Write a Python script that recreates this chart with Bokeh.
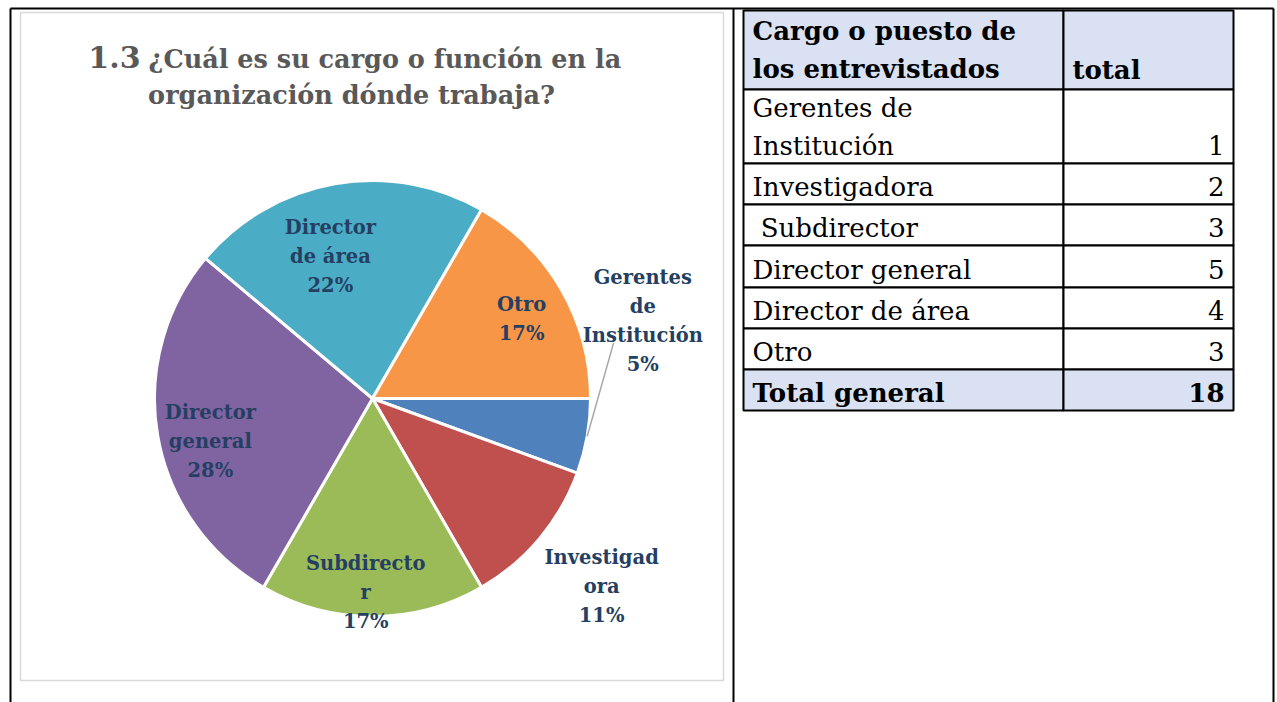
from bokeh.plotting import figure
from bokeh.models import Range1d, ColumnDataSource
from bokeh.embed import file_html
from bokeh.resources import INLINE
from bokeh.core.properties import value
import numpy as np

# ---------------- data ----------------
categories = ["Gerentes de Institución", "Investigadora", "Subdirector",
              "Director general", "Director de área", "Otro"]
counts = [1, 2, 3, 5, 4, 3]
pct_labels = ["5%", "11%", "17%", "28%", "22%", "17%"]
slice_labels = ["Gerentes\nde\nInstitución", "Investigad\nora", "Subdirecto\nr",
                "Director\ngeneral", "Director\nde área", "Otro"]
table_row_labels = ["Gerentes de\nInstitución", "Investigadora", "\u00a0Subdirector",
                    "Director general", "Director de área", "Otro"]
total_label = "Total general"
header_labels = ["Cargo o puesto de\nlos entrevistados", "total"]
title_number = "1.3"
title_lines = ["¿Cuál es su cargo o función en la", "organización dónde trabaja?"]
colors = ["#4F81BD", "#C0504D", "#9BBB59", "#8064A2", "#4BACC6", "#F79646"]

# ---------------- layout ----------------
W, H = 1277, 702
def X(px):
    return px
def Y(py):
    return H - py

SERIF = value("DejaVu Serif")
LABEL_COLOR = "#253F62"
TITLE_COLOR = "#595959"

p = figure(width=W, height=H, x_range=Range1d(0, W), y_range=Range1d(0, H),
           output_backend="svg", toolbar_location=None, min_border=0)
p.axis.visible = False
p.grid.visible = False
p.outline_line_color = None
p.background_fill_color = "white"

# page frame lines
p.segment(x0=[X(10), X(10), X(733), X(1273)], y0=[Y(8), Y(8), Y(8), Y(8)],
          x1=[X(1273), X(10), X(733), X(1273)], y1=[Y(8), Y(702), Y(702), Y(702)],
          line_color="black", line_width=2)

# chart frame
p.quad(left=[X(20)], right=[X(723)], top=[Y(12)], bottom=[Y(680)],
       fill_color="white", line_color="#D9D9D9", line_width=1.5)

# ---------------- pie ----------------
cx, cy, R = X(372), Y(398), 218
total = sum(counts)
cum = np.cumsum([0] + counts)
end_ang = [-cum[i] / total * 2 * np.pi for i in range(len(counts))]
start_ang = [-cum[i + 1] / total * 2 * np.pi for i in range(len(counts))]
mid_ang = [(a + b) / 2 for a, b in zip(start_ang, end_ang)]

pie_src = ColumnDataSource(dict(start=start_ang, end=end_ang, color=colors, cat=categories))
p.wedge(x=cx, y=cy, radius=R, start_angle="start", end_angle="end",
        fill_color="color", line_color="white", line_width=3, source=pie_src)

# label placement (radius factor, angle offset in degrees)
label_r = [1.29, 1.36, 0.89, 0.77, 0.68, 0.776]
label_off = [26, 0.6, -2, 5, 6.5, -1.8]
lx, ly, ltxt = [], [], []
for i in range(len(counts)):
    a = mid_ang[i] + np.radians(label_off[i])
    lx.append(cx + R * label_r[i] * np.cos(a))
    ly.append(cy + R * label_r[i] * np.sin(a))
    ltxt.append(slice_labels[i] + "\n" + pct_labels[i])

# leader line for the small slice
a0 = mid_ang[0]
a1 = mid_ang[0] + np.radians(23)
p.line(x=[cx + R * np.cos(a0), cx + R * 1.135 * np.cos(a1)],
       y=[cy + R * np.sin(a0), cy + R * 1.135 * np.sin(a1)],
       line_color="#A6A6A6", line_width=1.5)

p.text(x=lx, y=ly, text=ltxt, text_font=SERIF, text_font_style="bold",
       text_font_size="19.5px", text_color=LABEL_COLOR, text_align="center",
       text_baseline="middle", text_line_height=1.26)

# ---------------- title ----------------
p.text(x=[X(140)], y=[Y(56)], text=[title_number], text_font=SERIF,
       text_font_style="bold", text_font_size="30px", text_color=TITLE_COLOR,
       text_align="right", text_baseline="middle")
p.text(x=[X(148)], y=[Y(58)], text=[title_lines[0]], text_font=SERIF,
       text_font_style="bold", text_font_size="25.5px", text_color=TITLE_COLOR,
       text_align="left", text_baseline="middle")
p.text(x=[X(351)], y=[Y(94)], text=[title_lines[1]], text_font=SERIF,
       text_font_style="bold", text_font_size="25.5px", text_color=TITLE_COLOR,
       text_align="center", text_baseline="middle")

# ---------------- table ----------------
col_edges = [743, 1063, 1233]
row_edges = [10, 89, 163, 204, 245, 287, 328, 369, 410]
n_rows = len(row_edges) - 1
fills = ["#D9E1F2"] + ["white"] * len(categories) + ["#D9E1F2"]
for c in range(2):
    p.quad(left=[X(col_edges[c])] * n_rows, right=[X(col_edges[c + 1])] * n_rows,
           top=[Y(row_edges[r]) for r in range(n_rows)],
           bottom=[Y(row_edges[r + 1]) for r in range(n_rows)],
           fill_color=fills, line_color="black", line_width=2)

LINE_STEP = 38
FS = "26px"

def cell_lines(text, row, pad=18):
    """Return (y-list, line-list) for a cell's text, bottom-aligned in the row."""
    lines = text.split("\n")
    last = row_edges[row + 1] - pad
    ys = [Y(last - LINE_STEP * (len(lines) - 1 - k)) for k in range(len(lines))]
    return ys, lines

tx, ty, tt, tstyle = [], [], [], []
nx, ny, nt, nstyle = [], [], [], []
ys, ls = cell_lines(header_labels[0], 0, pad=21)
tx += [X(752)] * len(ls); ty += ys; tt += ls; tstyle += ["bold"] * len(ls)
ys, ls = cell_lines(header_labels[1], 0, pad=20)
tx += [X(1072)] * len(ls); ty += ys; tt += ls; tstyle += ["bold"] * len(ls)
for i, lab in enumerate(table_row_labels):
    ys, ls = cell_lines(lab, i + 1)
    tx += [X(752)] * len(ls); ty += ys; tt += ls; tstyle += ["normal"] * len(ls)
    ys, ls = cell_lines(str(counts[i]), i + 1)
    nx += [X(1224)]; ny += ys; nt += ls; nstyle += ["normal"]
ys, ls = cell_lines(total_label, n_rows - 1)
tx += [X(752)]; ty += ys; tt += ls; tstyle += ["bold"]
ys, ls = cell_lines(str(total), n_rows - 1)
nx += [X(1224)]; ny += ys; nt += ls; nstyle += ["bold"]

p.text(x="x", y="y", text="t", text_font_style="style",
       source=ColumnDataSource(dict(x=tx, y=ty, t=tt, style=tstyle)),
       text_font=SERIF, text_font_size=FS, text_color="black",
       text_align="left", text_baseline="middle")
p.text(x="x", y="y", text="t", text_font_style="style",
       source=ColumnDataSource(dict(x=nx, y=ny, t=nt, style=nstyle)),
       text_font=SERIF, text_font_size=FS, text_color="black",
       text_align="right", text_baseline="middle")

open("out.html", "w").write(file_html(p, INLINE))
